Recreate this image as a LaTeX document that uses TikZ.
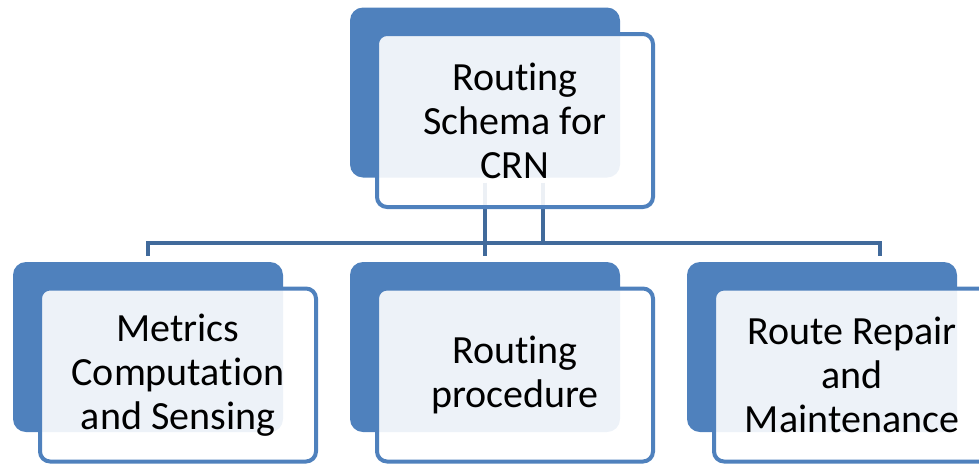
\documentclass[tikz,border=0pt]{standalone}
\usepackage{fontspec}
\setmainfont{Carlito}[Ligatures={NoCommon}]
\definecolor{boxblue}{RGB}{79,129,189}
\definecolor{linkblue}{RGB}{65,106,155}

\begin{document}
\begin{tikzpicture}[x=1pt,y=-1pt,
        backbox/.style={fill=boxblue,rounded corners=13pt,minimum width=270pt,minimum height=170pt,inner sep=0pt},
        frontbox/.style={draw=boxblue,line width=4pt,fill=white,fill opacity=0.9,text opacity=1,rounded corners=10pt,
            minimum width=276pt,minimum height=173pt,inner sep=0pt,align=center,font=\fontsize{40}{44}\selectfont},
        link/.style={draw=linkblue,line width=4.5pt}]
    \useasboundingbox (0,0) rectangle (979,464);

    % back plates
    \node[backbox] (crnback) at (485,92.5) {};
    \node[backbox] (metricsback) at (148,347) {};
    \node[backbox] (routeback) at (485,347) {};
    \node[backbox] (repairback) at (822,347) {};

    % connectors
    \draw[link] ([yshift=6pt]metricsback.north) |- ([xshift=58pt,yshift=19pt]repairback.north)
        -- ([xshift=58pt,yshift=6pt]repairback.north);
    \draw[link] ([yshift=-5pt]crnback.south) -- ([yshift=6pt]routeback.north);
    \draw[link] ([xshift=58pt,yshift=-5pt]crnback.south) -- ([xshift=58pt,yshift=19pt]routeback.north);

    % front boxes with text
    \node[frontbox] (crn) at ([shift={(30,28)}]crnback) {Routing\\Schema for\\CRN};
    \node[frontbox] (metrics) at ([shift={(30,28)}]metricsback) {Metrics\\Computation\\and Sensing};
    \node[frontbox] (route) at ([shift={(30,28)}]routeback) {Routing\\procedure};
    \node[frontbox] (repair) at ([shift={(30,28)}]repairback) {Route Repair\\and\\Maintenance};
\end{tikzpicture}
\end{document}
